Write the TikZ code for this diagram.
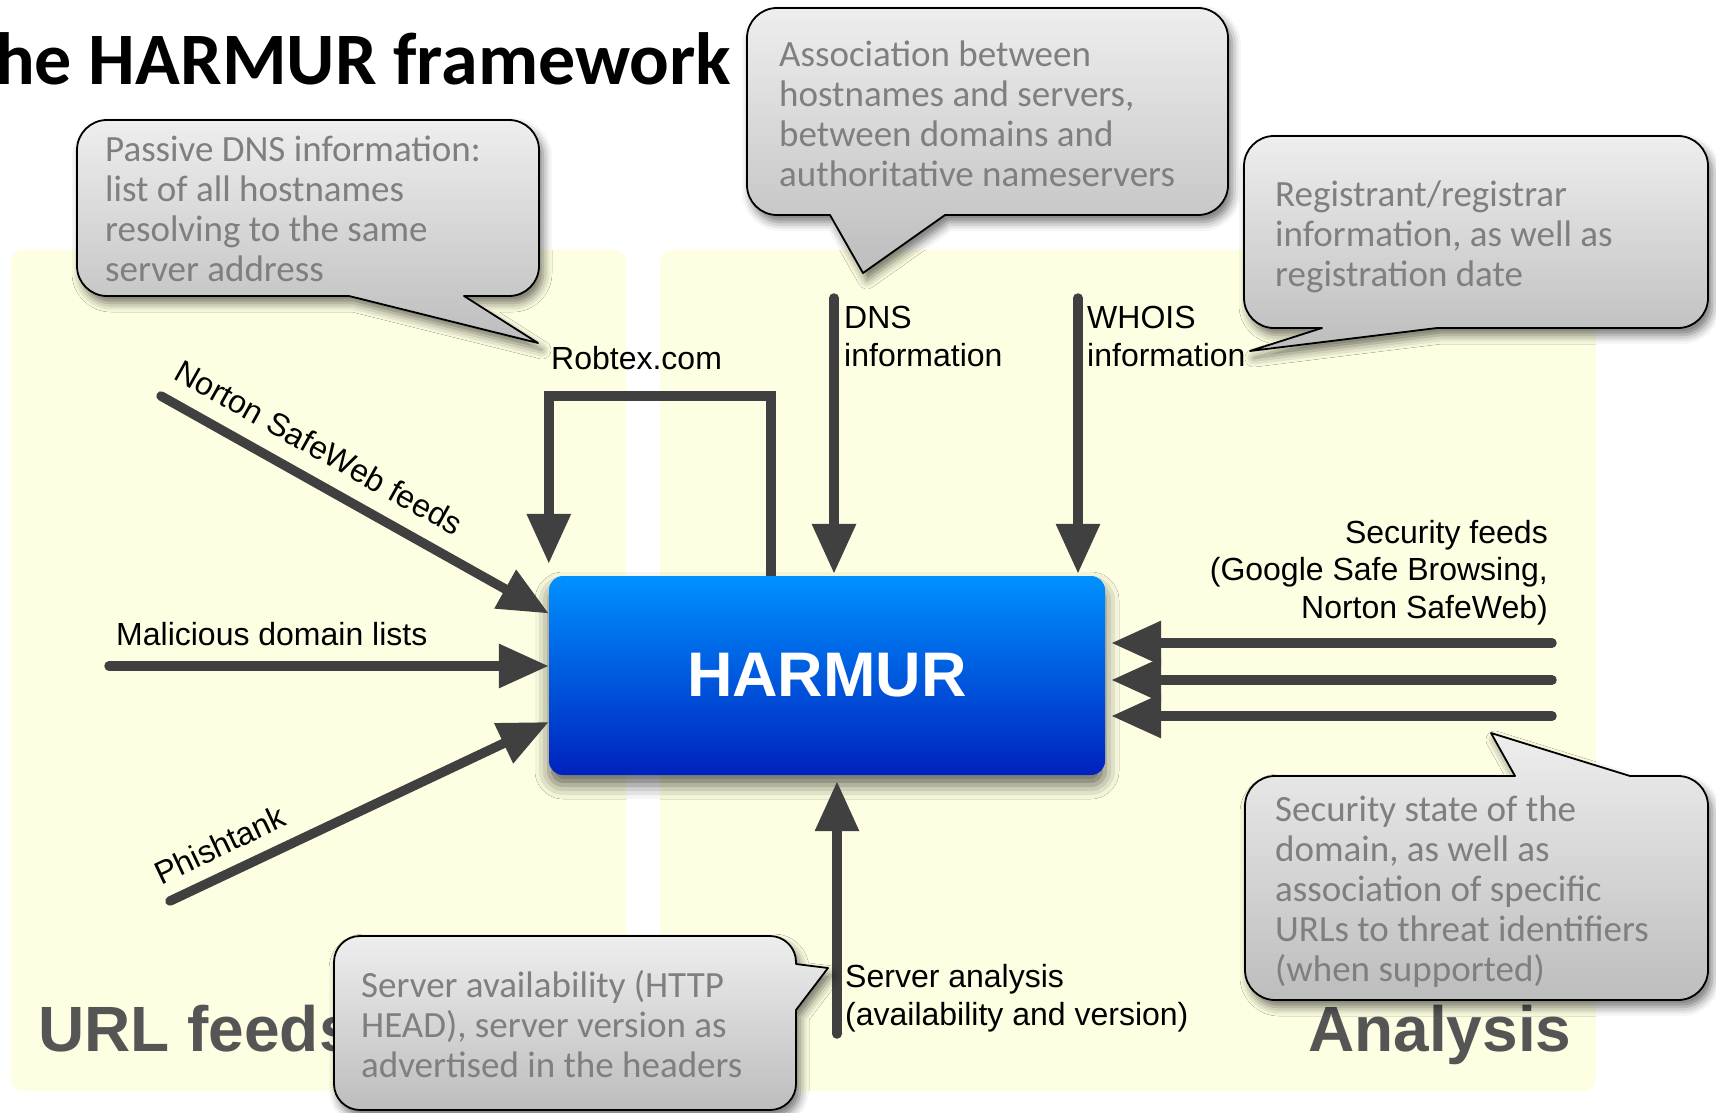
\documentclass[tikz,border=0pt]{standalone}
\usepackage{fontspec}
\setmainfont{Liberation Sans}
\newfontfamily\calfont{Carlito}
\usetikzlibrary{arrows.meta,shadows.blur}

\definecolor{panel}{HTML}{FEFEE2}
\definecolor{ink}{HTML}{404040}
\definecolor{boxtop}{HTML}{0091FF}
\definecolor{boxbot}{HTML}{0022BD}
\definecolor{calltop}{HTML}{EEEEEE}
\definecolor{callbot}{HTML}{BDBDBD}
\definecolor{calltext}{HTML}{7F7F7F}
\definecolor{biglabel}{HTML}{555555}

\tikzset{
  panelbox/.style={fill=panel, rounded corners=12pt},
  feed/.style={draw=ink, line width=9.5pt, line cap=round, -{Triangle[length=50pt,width=42pt]}},
  loopfeed/.style={draw=ink, line width=9.5pt, -{Triangle[length=50pt,width=42pt]}},
  lbl/.style={font=\fontsize{32}{37.5}\selectfont, inner sep=0pt, align=left},
  biglbl/.style={font=\bfseries\fontsize{64}{64}\selectfont, text=biglabel, inner sep=0pt},
  harmurbox/.style={minimum width=556pt, minimum height=199pt, rounded corners=14pt,
    top color=boxtop, bottom color=boxbot, text=white, inner sep=0pt,
    font=\bfseries\fontsize{63}{63}\selectfont,
    blur shadow={shadow xshift=0pt, shadow yshift=-10pt, shadow blur radius=14pt, shadow opacity=60}},
  bubble/.style={draw=black, line width=1.8pt, top color=calltop, bottom color=callbot, line join=round,
    blur shadow={shadow xshift=4pt, shadow yshift=-7pt, shadow blur radius=9pt, shadow opacity=55}},
  bubbletext/.style={font=\calfont\fontsize{37}{40}\selectfont, text=calltext, inner sep=0pt, align=left},
}

\begin{document}
\begin{tikzpicture}[x=1pt, y=-1pt]
\useasboundingbox (0,0) rectangle (1716,1113);

% title
\node[anchor=base west, inner sep=0pt, font=\calfont\bfseries\fontsize{74}{74}\selectfont] (title) at (-5,85) {he HARMUR framework};

% background panels
\fill[panelbox] (11,250) rectangle (626,1091);
\fill[panelbox] (660,250) rectangle (1596,1091);

% panel captions
\node[biglbl, anchor=base west] (urlfeeds) at (38,1051) {URL feeds};
\node[biglbl, anchor=base west] (analysis) at (1308,1051) {Analysis};

% central component
\node[harmurbox] (harmur) at (827,675.5) {HARMUR};

% free ends of the connectors
\coordinate (nortonSrc) at (161,396);
\coordinate (malSrc) at (109,666);
\coordinate (phishSrc) at (170,901);
\coordinate (dnsSrc) at (834,298);
\coordinate (whoisSrc) at (1078,298);
\coordinate (secA) at (1552,643);
\coordinate (secB) at (1552,680);
\coordinate (secC) at (1552,716);
\coordinate (srvSrc) at (837,1034);

% URL feeds
\draw[feed] (nortonSrc) -- ([yshift=62pt]harmur.west)
  node[pos=0.367, sloped, above, inner sep=16pt, font=\fontsize{32}{32}\selectfont] (nortonLbl) {Norton SafeWeb feeds};
\draw[feed] (malSrc) -- ([yshift=9.5pt]harmur.west);
\draw[feed] (phishSrc) -- ([yshift=-46.5pt]harmur.west)
  node[pos=0.165, sloped, above, inner sep=13pt, font=\fontsize{32}{32}\selectfont] (phishLbl) {Phishtank};
\node[lbl, anchor=base west] (malLbl) at (116,645) {Malicious domain lists};

% Robtex loop
\draw[loopfeed] ([xshift=-56pt]harmur.north) -- ++(0,-180) -| ([yshift=12pt]harmur.north west);
\node[lbl, anchor=base west] (robLbl) at (551,369) {Robtex.com};

% DNS and WHOIS (multi-line labels are placed by the baseline of their last line)
\draw[feed] (dnsSrc) -- ([yshift=2pt]dnsSrc |- harmur.north);
\draw[feed] (whoisSrc) -- ([yshift=2pt]whoisSrc |- harmur.north);
\node[lbl, anchor=base west] (dnsLbl) at (844,366) {DNS\\information};
\node[lbl, anchor=base west] (whoisLbl) at (1087,366) {WHOIS\\information};

% security feeds
\draw[feed] (secA) -- ([xshift=6pt]secA -| harmur.east);
\draw[feed] (secB) -- ([xshift=6pt]secB -| harmur.east);
\draw[feed] (secC) -- ([xshift=6pt]secC -| harmur.east);
\node[lbl, align=right, anchor=base east] (secLbl) at (1548,618) {Security feeds\\(Google Safe Browsing,\\Norton SafeWeb)};

% server analysis
\draw[feed] (srvSrc) -- ([yshift=-6pt]srvSrc |- harmur.south);
\node[lbl, anchor=base west] (srvLbl) at (845,1025) {Server analysis\\(availability and version)};

% callouts
\path[bubble] (107,120) -- (509,120) arc[start angle=270,end angle=360,radius=30] -- (539,266)
  arc[start angle=0,end angle=90,radius=30] -- (464,296) -- (538,343) -- (349,296) -- (107,296)
  arc[start angle=90,end angle=180,radius=30] -- (77,150) arc[start angle=180,end angle=270,radius=30] -- cycle;
\node[bubbletext, anchor=base west] (passiveTxt) at (105,281) {Passive DNS information:\\list of all hostnames\\resolving to the same\\server address};

\path[bubble] (777,8) -- (1198,8) arc[start angle=270,end angle=360,radius=30] -- (1228,185)
  arc[start angle=0,end angle=90,radius=30] -- (945,215) -- (863,273) -- (830,215) -- (777,215)
  arc[start angle=90,end angle=180,radius=30] -- (747,38) arc[start angle=180,end angle=270,radius=30] -- cycle;
\node[bubbletext, anchor=base west] (assocTxt) at (779,186) {Association between\\hostnames and servers,\\between domains and\\authoritative nameservers};

\path[bubble] (1274,136) -- (1678,136) arc[start angle=270,end angle=360,radius=30] -- (1708,298)
  arc[start angle=0,end angle=90,radius=30] -- (1437,328) -- (1250,351) -- (1322,328) -- (1274,328)
  arc[start angle=90,end angle=180,radius=30] -- (1244,166) arc[start angle=180,end angle=270,radius=30] -- cycle;
\node[bubbletext, anchor=base west] (whoisTxt) at (1275,286) {Registrant/registrar\\information, as well as\\registration date};

\path[bubble] (1275,776) -- (1515,776) -- (1491,733) -- (1630,776) -- (1678,776)
  arc[start angle=270,end angle=360,radius=30] -- (1708,970)
  arc[start angle=0,end angle=90,radius=30] -- (1275,1000)
  arc[start angle=90,end angle=180,radius=30] -- (1245,806) arc[start angle=180,end angle=270,radius=30] -- cycle;
\node[bubbletext, anchor=base west] (secTxt) at (1275,981) {Security state of the\\domain, as well as\\association of specific\\URLs to threat identifiers\\(when supported)};

\path[bubble] (360,936) -- (770,936) arc[start angle=270,end angle=360,radius=26] -- (796,964) -- (828,968) -- (796,1010) -- (796,1084)
  arc[start angle=0,end angle=90,radius=26] -- (360,1110)
  arc[start angle=90,end angle=180,radius=26] -- (334,962) arc[start angle=180,end angle=270,radius=26] -- cycle;
\node[bubbletext, anchor=base west] (srvTxt) at (361,1077) {Server availability (HTTP\\HEAD), server version as\\advertised in the headers};

\end{tikzpicture}
\end{document}
